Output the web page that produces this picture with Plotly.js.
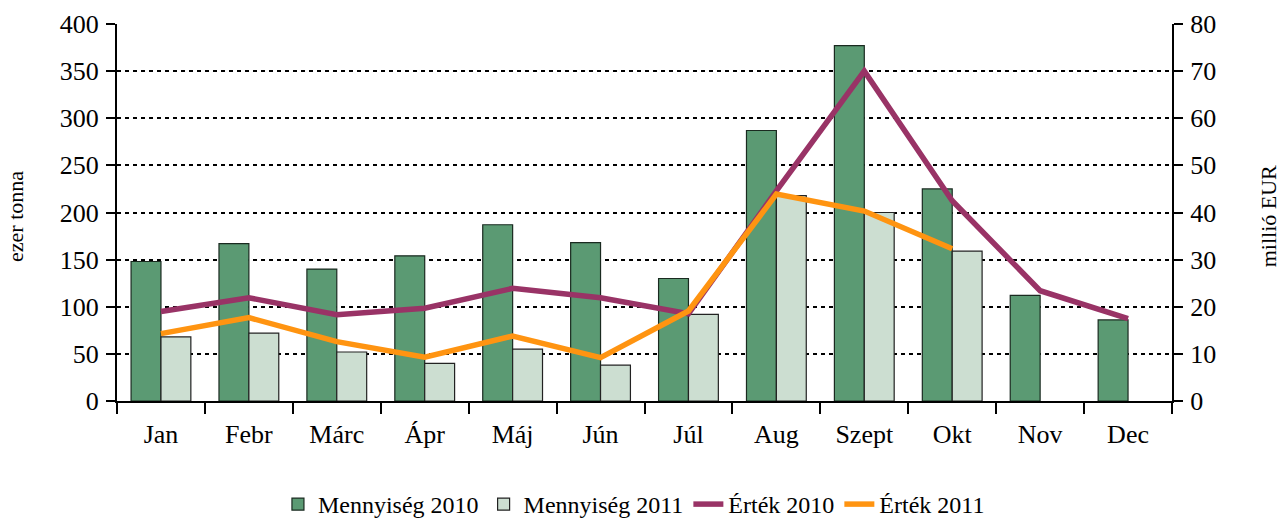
<!DOCTYPE html>
<html>
<head>
<meta charset="utf-8">
<script src="https://cdn.plot.ly/plotly-3.0.1.min.js"></script>
<style>html,body{margin:0;padding:0;background:#fff;}#chart{width:1287px;height:527px;}</style>
</head>
<body>
<div id="chart"></div>
<script>
var months = ["Jan","Febr","Márc","Ápr","Máj","Jún","Júl","Aug","Szept","Okt","Nov","Dec"];
var qty2010 = [148,167,140,154,187,168,130,287,377,225,112,86];
var qty2011 = [68,72,52,40,55,38,92,218,200,159,null,null];
var val2010 = [19.0,21.9,18.3,19.7,23.9,21.9,18.5,44.6,70.0,42.5,23.4,17.5];
var val2011 = [14.3,17.7,12.6,9.3,13.8,9.2,19.1,43.9,40.3,32.3,null,null];
var leftTitle = "ezer tonna";
var rightTitle = "millió EUR";

var font = {family:"Liberation Serif", size:26, color:"#000"};
var legendFont = {family:"Liberation Serif", size:24, color:"#000"};
var titleFont = {family:"Liberation Serif", size:22, color:"#000"};

var traces = [
  {type:"bar", x:months, y:qty2010, name:"Mennyiség 2010",
   marker:{color:"#5b9a73", line:{color:"#1a2a20", width:1.2}}},
  {type:"bar", x:months, y:qty2011, name:"Mennyiség 2011",
   marker:{color:"#ccded1", line:{color:"#222", width:1.2}}},
  {type:"scatter", mode:"lines", x:months, y:val2010, yaxis:"y2", name:"Érték 2010",
   line:{color:"#993366", width:5.5}},
  {type:"scatter", mode:"lines", x:months, y:val2011, yaxis:"y2", name:"Érték 2011",
   line:{color:"#ff9411", width:5.5}}
];

var layout = {
  width:1287, height:527, autosize:false,
  margin:{l:117, r:115, t:24, b:126, autoexpand:false},
  paper_bgcolor:"#fff", plot_bgcolor:"#fff",
  font:font,
  barmode:"group", bargap:0.32, bargroupgap:0,
  showlegend:true,
  legend:{orientation:"h", x:0.49, xanchor:"center", yref:"container", y:0.0, yanchor:"bottom",
          font:legendFont, itemwidth:30, traceorder:"normal",
          tracegroupgap:0, bgcolor:"rgba(0,0,0,0)"},
  xaxis:{showline:true, linecolor:"#000", linewidth:2, ticks:"outside", ticklen:11, tickwidth:2,
         tickcolor:"#000", tickson:"boundaries", showgrid:false, tickfont:font, zeroline:false,
         tickangle:0, automargin:false, ticklabelstandoff:9},
  yaxis:{range:[0,400], dtick:50, showline:true, linecolor:"#000", linewidth:2,
         ticks:"outside", ticklen:9, tickwidth:2, tickcolor:"#000",
         showgrid:true, gridcolor:"#000", gridwidth:2, griddash:"4px,4px", zeroline:false,
         tickfont:font, automargin:false, ticklabelstandoff:2},
  yaxis2:{range:[0,80], dtick:10, overlaying:"y", side:"right", showline:true,
          linecolor:"#000", linewidth:2, ticks:"outside", ticklen:9, tickwidth:2, tickcolor:"#000",
          showgrid:false, zeroline:false, tickfont:font, automargin:false, ticklabelstandoff:2},
  annotations:[
    {text:leftTitle, xref:"paper", yref:"paper", x:-0.096, y:0.49, textangle:-90,
     showarrow:false, font:titleFont, xanchor:"center", yanchor:"middle"},
    {text:rightTitle, xref:"paper", yref:"paper", x:1.091, y:0.49, textangle:-90,
     showarrow:false, font:titleFont, xanchor:"center", yanchor:"middle"}
  ]
};

Plotly.newPlot("chart", traces, layout, {displayModeBar:false, staticPlot:true});
</script>
</body>
</html>
